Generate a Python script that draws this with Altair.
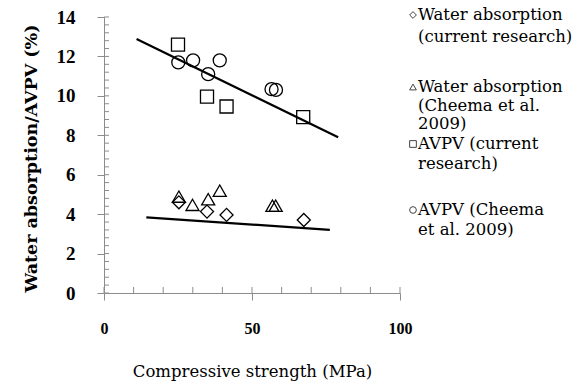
import altair as alt
import pandas as pd

# Data
wa_cur_x = [25.3, 34.8, 41.4, 67.5]
wa_cur_y = [4.6, 4.13, 3.96, 3.7]
wa_ch_x = [25.3, 29.9, 35.2, 39.1, 56.9, 58.0]
wa_ch_y = [4.89, 4.47, 4.76, 5.19, 4.43, 4.43]
avpv_cur_x = [25.0, 34.8, 41.4, 67.3]
avpv_cur_y = [12.6, 9.96, 9.46, 8.92]
avpv_ch_x = [25.1, 30.1, 35.2, 39.1, 56.6, 58.1]
avpv_ch_y = [11.7, 11.8, 11.1, 11.8, 10.34, 10.3]
upper_line_x = [11.0, 79.1]
upper_line_y = [12.88, 7.9]
lower_line_x = [14.3, 76.3]
lower_line_y = [3.84, 3.2]

x_ticks = [0, 50, 100]
x_minor = [0, 10, 20, 30, 40, 50, 60, 70, 80, 90, 100]
y_ticks = [0, 2, 4, 6, 8, 10, 12, 14]
y_minor = [round(i * 0.4, 1) for i in range(36)]

legend_labels = [
    "Water absorption\n(current research)",
    "Water absorption\n(Cheema et al.\n2009)",
    "AVPV (current\nresearch)",
    "AVPV (Cheema\net al. 2009)",
]
legend_shapes = ["diamond", "triangle-up", "square", "circle"]

FONT = "Liberation Serif"
WIDE = "DejaVu Serif"
GRAY = "#8c8c8c"
W, H = 296, 276

xs = alt.Scale(domain=[0, 100], nice=False)
ys = alt.Scale(domain=[0, 14], nice=False)

x_axis = alt.Axis(values=x_ticks, title="Compressive strength (MPa)", grid=False,
                  labelFont=FONT, labelFontSize=16, labelFontWeight="bold",
                  labelColor="black", labelPadding=20, tickSize=7,
                  labelOverlap=False, labelFlush=False,
                  tickColor=GRAY, domainColor=GRAY, titleFont=WIDE,
                  titleFontSize=16.5, titleFontWeight="normal", titleColor="black",
                  titlePadding=27)
y_axis = alt.Axis(values=y_ticks, title="Water absorption/AVPV (%)", grid=False,
                  labelFont=FONT, labelFontSize=19, labelFontWeight="bold",
                  labelColor="black", labelPadding=22, tickSize=7,
                  labelOverlap=False, labelFlush=False,
                  tickColor=GRAY, domainColor=GRAY, titleFont=WIDE,
                  titleFontSize=17.5, titleFontWeight="bold", titleColor="black",
                  titlePadding=16, titleY=141)


def pts(xv, yv, shape):
    df = pd.DataFrame({"x": xv, "y": yv})
    return alt.Chart(df).mark_point(shape=shape, filled=False, color="black",
                                    strokeWidth=1.3, size=170, opacity=1).encode(
        x=alt.X("x:Q", scale=xs, axis=x_axis),
        y=alt.Y("y:Q", scale=ys, axis=y_axis),
    )


def line(xv, yv):
    df = pd.DataFrame({"x": xv, "y": yv})
    return alt.Chart(df).mark_line(color="black", strokeWidth=2.2).encode(
        x=alt.X("x:Q", scale=xs, axis=x_axis), y=alt.Y("y:Q", scale=ys, axis=y_axis))


ymin = alt.Chart(pd.DataFrame({"y": y_minor})).mark_rule(color=GRAY).encode(
    y=alt.Y("y:Q", scale=ys, axis=y_axis), x=alt.value(0), x2=alt.value(5))
xmin = alt.Chart(pd.DataFrame({"x": x_minor})).mark_rule(color=GRAY).encode(
    x=alt.X("x:Q", scale=xs, axis=x_axis), y=alt.value(H), y2=alt.value(H - 6))

layers = [ymin, xmin,
          line(upper_line_x, upper_line_y), line(lower_line_x, lower_line_y),
          pts(wa_cur_x, wa_cur_y, "diamond"), pts(wa_ch_x, wa_ch_y, "triangle-up"),
          pts(avpv_cur_x, avpv_cur_y, "square"), pts(avpv_ch_x, avpv_ch_y, "circle")]

sym_y = [-2, 70, 127, 193]
txt_y = [3, 75, 132, 198]
line_h = [22, 18.5, 20, 20]
for lab, shp, sy, ty, lh in zip(legend_labels, legend_shapes, sym_y, txt_y, line_h):
    d = pd.DataFrame({"t": [lab]})
    layers.append(alt.Chart(d).mark_point(shape=shp, filled=False, color="#444444",
                                          strokeWidth=1, size=45, opacity=1).encode(
        x=alt.value(309), y=alt.value(sy)))
    layers.append(alt.Chart(d).mark_text(align="left", baseline="alphabetic",
                                         lineBreak="\n", lineHeight=lh, font=WIDE,
                                         fontSize=16.5, color="black").encode(
        x=alt.value(314), y=alt.value(ty), text="t:N"))

chart = alt.layer(*layers).properties(
    width=W, height=H,
    autosize=alt.AutoSizeParams(type="none"),
    padding={"left": 104, "top": 17, "right": 188, "bottom": 99},
).configure_view(stroke=None).configure_axis(labelOverlap=False)

chart.save("out.html", embed_options={"renderer": "svg", "actions": False})
